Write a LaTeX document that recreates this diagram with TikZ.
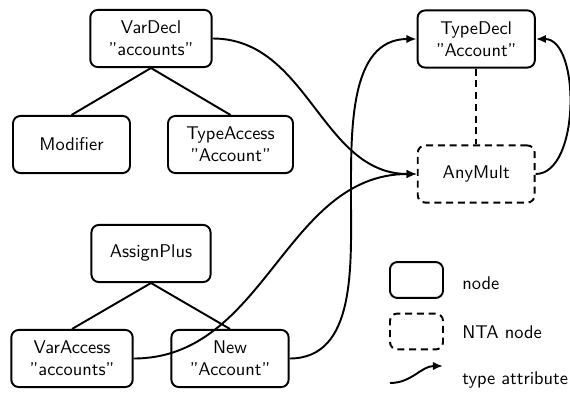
\documentclass[tikz,border=0pt]{standalone}
\usetikzlibrary{arrows.meta}
\begin{document}
\begin{tikzpicture}[x=0.543pt,y=-0.543pt,font=\sffamily,
  box/.style={draw,rounded corners=4pt,line width=1.05pt,align=center,
    minimum width=63.5pt,minimum height=31pt,inner xsep=10pt},
  nta/.style={box,dash pattern=on 3.8pt off 2.6pt},
  legbox/.style={minimum width=28.8pt,minimum height=19.5pt,inner sep=0pt},
  edge/.style={line width=1.05pt},
  ntaedge/.style={line width=1.05pt,dash pattern=on 3.8pt off 2.6pt},
  attr/.style={line width=1.05pt,-{Latex[length=5.5pt,width=4.5pt]}},
  lbl/.style={anchor=west,inner sep=0pt}]
\useasboundingbox (0,0) rectangle (570,394);
% tree nodes
\node[box] (VarDecl) at (151,38.5) {VarDecl\\"accounts"};
\node[box] (Modifier) at (71.5,144.5) {Modifier};
\node[box] (TypeAccess) at (230.5,144.5) {TypeAccess\\"Account"};
\node[box] (TypeDecl) at (476.2,39) {TypeDecl\\"Account"};
\node[nta] (AnyMult) at (476.2,174) {AnyMult};
\node[box] (AssignPlus) at (151,253.5) {AssignPlus};
\node[box] (VarAccess) at (72,358.5) {VarAccess\\"accounts"};
\node[box] (New) at (230,358.5) {New\\"Account"};
% legend
\node[box,legbox] (LegNode) at (416.5,280) {};
\node[nta,legbox] (LegNTA) at (416.5,331.5) {};
\coordinate (LegA) at (390,383);
\coordinate (LegB) at (443,366);
\node[lbl] (LblNode) at (462,283) {node};
\node[lbl] (LblNTA) at (462,332) {NTA node};
\node[lbl] (LblAttr) at (462,380) {type attribute};
\coordinate (bend) at (351,200);
% tree edges
\draw[edge] (VarDecl.south) -- (Modifier.north);
\draw[edge] (VarDecl.south) -- (TypeAccess.north);
\draw[edge] (AssignPlus.south) -- (VarAccess.north);
\draw[edge] (AssignPlus.south) -- (New.north);
\draw[ntaedge] (TypeDecl.south) -- (AnyMult.north);
% attributes
\draw[attr] (VarDecl.east) to[out=0,in=180] (AnyMult.west);
\draw[attr] (VarAccess.east) to[out=0,in=180] (AnyMult.west);
\draw[attr] (New.east) to[out=0,in=-90] (bend) to[out=90,in=180] (TypeDecl.west);
\draw[attr] (AnyMult.east) to[out=0,in=0,looseness=0.85] (TypeDecl.east);
\draw[attr] (LegA) to[out=0,in=180] (LegB);
\end{tikzpicture}
\end{document}
